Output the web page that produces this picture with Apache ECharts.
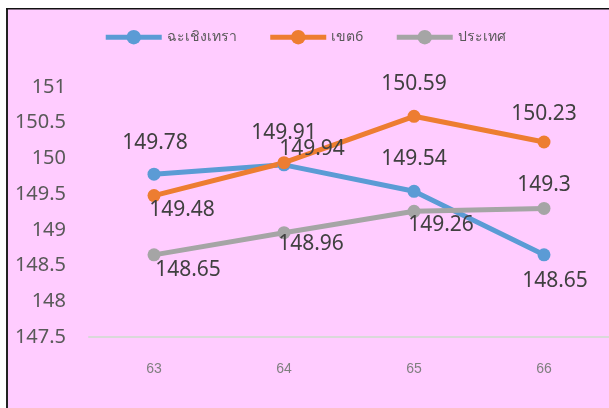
<!DOCTYPE html>
<html>
<head>
<meta charset="utf-8">
<script src="https://cdn.jsdelivr.net/npm/echarts@6/dist/echarts.min.js"></script>
<style>
html,body{margin:0;padding:0;background:#fff;}
#c{width:609px;height:408px;}
</style>
</head>
<body>
<div id="c"></div>
<script>
const categories = ['63', '64', '65', '66'];
const seriesNames = ['ฉะเชิงเทรา', 'เขต6', 'ประเทศ'];
const chachoengsao = [149.78, 149.91, 149.54, 148.65];
const khet6 = [149.48, 149.94, 150.59, 150.23];
const prathet = [148.65, 148.96, 149.26, 149.3];
const yTicks = { min: 147.5, max: 151, interval: 0.5 };

const colors = ['#5B9BD5', '#ED7D31', '#A5A5A5'];
const labelOffsets = [
  [[1, -31], [0, -32], [0, -32], [11, 26]],
  [[28, 14], [28, -14], [0, -32], [0, -28]],
  [[34, 15], [27, 11], [27, 14], [0, -23]]
];
const values = [chachoengsao, khet6, prathet];

const chart = echarts.init(document.getElementById('c'), null, { renderer: 'canvas' });
const font = '"Noto Sans", "Open Sans", sans-serif';

chart.setOption({
  backgroundColor: '#FFCCFF',
  animation: false,
  graphic: [
    { type: 'rect', shape: { x: 0, y: 0, width: 609, height: 8 }, style: { fill: '#fff' }, z: -1 },
    { type: 'rect', shape: { x: 0, y: 0, width: 6, height: 408 }, style: { fill: '#fff' }, z: -1 },
    { type: 'rect', shape: { x: 6, y: 8, width: 2, height: 400 }, style: { fill: '#222' }, z: -1 },
    { type: 'rect', shape: { x: 6, y: 8, width: 603, height: 1.5 }, style: { fill: '#111' }, z: -1 }
  ],
  legend: {
    top: 25,
    left: 'center',
    itemWidth: 56,
    itemHeight: 18,
    itemGap: 31,
    lineStyle: { width: 5 },
    textStyle: { fontSize: 14, color: '#595959', fontFamily: font },
    data: seriesNames
  },
  grid: { left: 89, right: -2, top: 87, bottom: 71 },
  xAxis: {
    type: 'category',
    data: categories,
    boundaryGap: true,
    axisLine: { lineStyle: { color: '#D9D9D9', width: 2 } },
    axisTick: { show: false },
    axisLabel: { fontSize: 14, color: '#7F7F7F', margin: 25, fontFamily: '"Liberation Sans", Arial, sans-serif' }
  },
  yAxis: {
    type: 'value',
    min: yTicks.min,
    max: yTicks.max,
    interval: yTicks.interval,
    axisLine: { show: false },
    axisTick: { show: false },
    splitLine: { show: false },
    axisLabel: { fontSize: 20, color: '#595959', margin: 23, fontFamily: font }
  },
  series: seriesNames.map((name, i) => ({
    name: name,
    type: 'line',
    color: colors[i],
    symbol: 'circle',
    symbolSize: 13,
    lineStyle: { width: 5, color: colors[i] },
    itemStyle: { color: colors[i] },
    label: {
      show: true,
      position: 'inside',
      fontSize: 21,
      color: '#404040',
      fontFamily: font
    },
    data: values[i].map((v, j) => ({
      value: v,
      label: { offset: labelOffsets[i][j] }
    }))
  }))
});
</script>
</body>
</html>
